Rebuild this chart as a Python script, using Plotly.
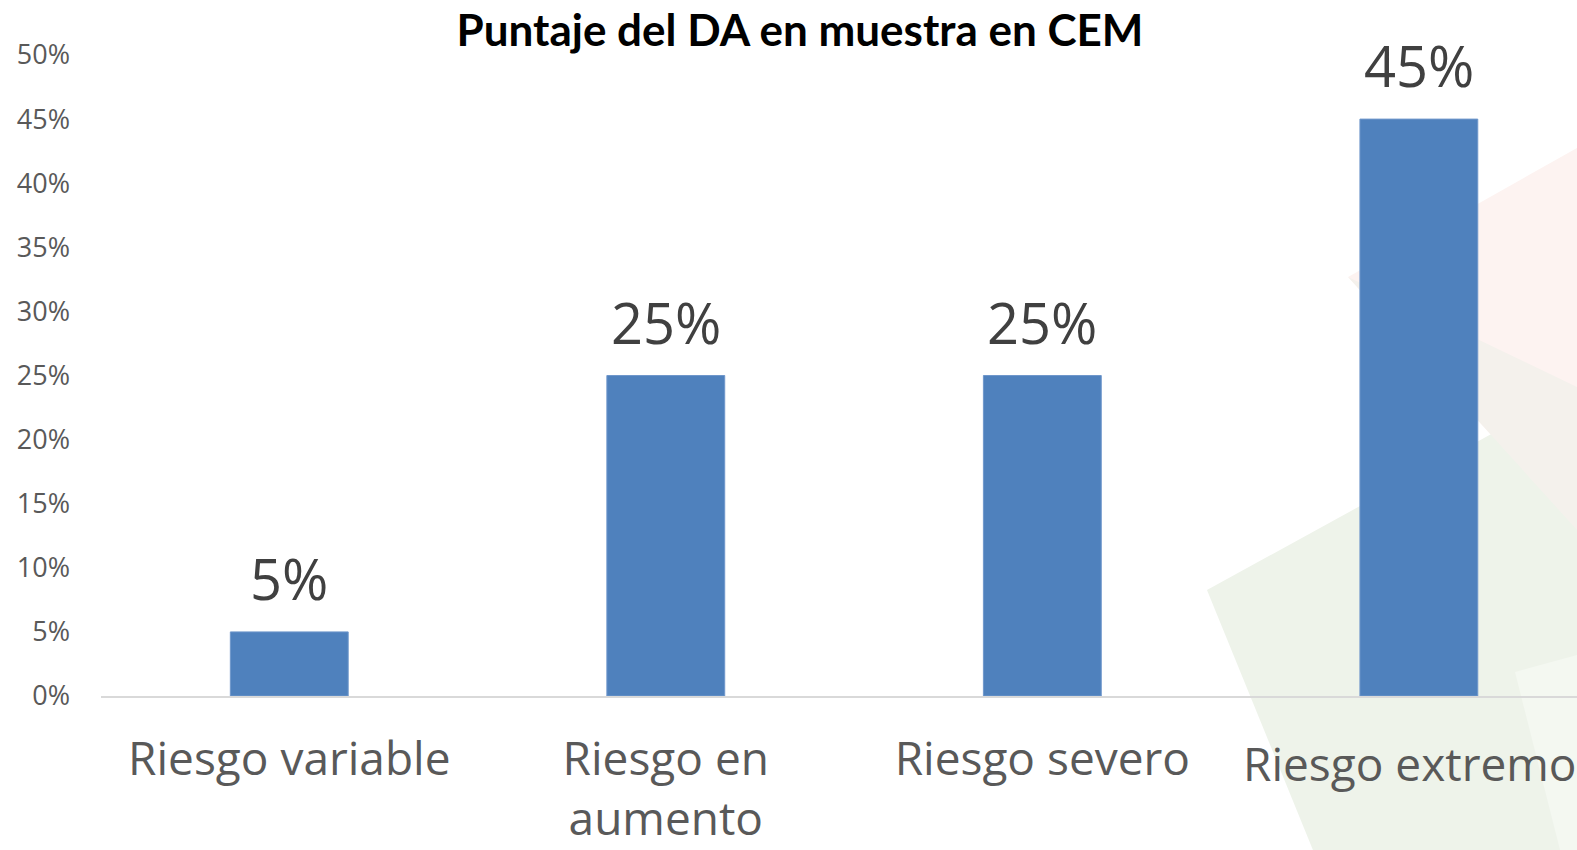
import plotly.graph_objects as go

categories = ["Riesgo variable", "Riesgo en<br>aumento", "Riesgo severo", "Riesgo extremo"]
values = [0.05, 0.25, 0.25, 0.45]
value_labels = ["5%", "25%", "25%", "45%"]
y_ticks = [0, 0.05, 0.10, 0.15, 0.20, 0.25, 0.30, 0.35, 0.40, 0.45, 0.50]
y_tick_labels = ["0%", "5%", "10%", "15%", "20%", "25%", "30%", "35%", "40%", "45%", "50%"]
title = "Puntaje del DA en muestra en CEM"

W, H = 1577, 850
ML, MR, MT, MB = 101, 0, 55, 850 - 696
PW, PH = W - ML - MR, H - MT - MB


def px(x, y):
    return (x - ML) / PW, (H - MB - y) / PH


def path(points):
    pts = [px(x, y) for x, y in points]
    return "M " + " L ".join(f"{a:.4f},{b:.4f}" for a, b in pts) + " Z"


fig = go.Figure()
fig.add_trace(go.Bar(
    x=list(range(len(categories))),
    y=values,
    marker=dict(color="#4F81BD", line=dict(color="#6F97CB", width=1)),
    width=0.313,
    hoverinfo="skip",
))

for i, (v, lab) in enumerate(zip(values, value_labels)):
    fig.add_annotation(
        x=i, y=v, text=lab, showarrow=False, yanchor="bottom", yshift=14,
        font=dict(family="Open Sans", size=56, color="#404040"),
    )

# last category label runs off the right edge in the reference: draw it as an
# annotation kept inside the page (plotly hides overflowing tick labels)
last = len(categories) - 1
tick_text = categories[:last] + [""]
fig.add_annotation(
    x=last, xref="x", y=0, yref="paper", yanchor="top", xanchor="center",
    xshift=-9, yshift=-34, text=categories[last], showarrow=False,
    font=dict(family="Open Sans", size=46, color="#595959"),
)

# faint decorative background polygons (page pixel coords)
shapes = [
    dict(points=[(1348, 277), (1577, 148), (1577, 530)], color="#FDF3F1"),
    dict(points=[(1207, 590), (1577, 387), (1577, 850), (1313, 850)], color="#EEF3EA"),
    dict(points=[(1348, 277), (1577, 387), (1577, 530)], color="#F4F1EC"),
    dict(points=[(1515, 672), (1577, 655), (1577, 850), (1560, 850)], color="#F4F8F1"),
]
for s in shapes:
    fig.add_shape(type="path", path=path(s["points"]), xref="paper", yref="paper",
                  fillcolor=s["color"], line=dict(width=0), layer="below")

fig.update_layout(
    width=W, height=H,
    margin=dict(l=ML, r=MR, t=MT, b=MB),
    paper_bgcolor="white", plot_bgcolor="rgba(0,0,0,0)",
    showlegend=False,
    title=dict(text="<b>" + title + "</b>", x=800 / W, xanchor="center",
               y=1 - 31 / H, yanchor="middle",
               font=dict(family="Lato", size=44, color="#000000")),
    xaxis=dict(
        range=[-0.5, 3.42], tickmode="array", tickvals=list(range(len(categories))), ticktext=tick_text,
        showgrid=False, zeroline=False, showline=True, linecolor="#D9D9D9", linewidth=1.5,
        ticks="", ticklabelstandoff=22,
        tickfont=dict(family="Open Sans", size=46, color="#595959"),
    ),
    yaxis=dict(
        range=[0, 0.5], tickmode="array", tickvals=y_ticks, ticktext=y_tick_labels,
        showgrid=False, zeroline=False, showline=False, ticks="",
        ticklabelstandoff=30,
        tickfont=dict(family="Open Sans", size=27, color="#595959"),
    ),
)

post = "document.body.style.margin='0';document.body.style.overflow='hidden';"

fig.write_html("out.html", config={"displayModeBar": False}, post_script=post)
